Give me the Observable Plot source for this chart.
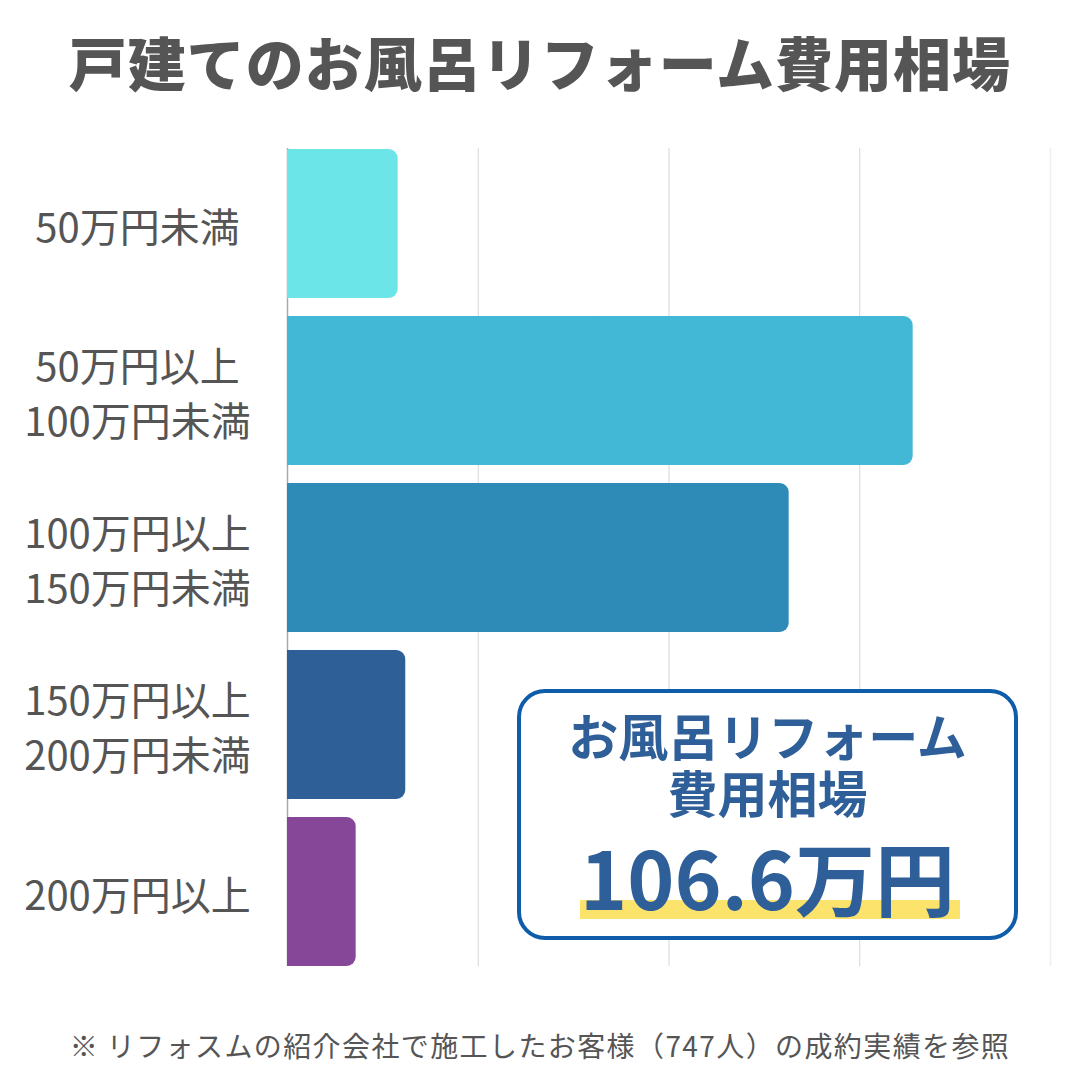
<!DOCTYPE html>
<html>
<head>
<meta charset="utf-8">
<script src="https://cdn.jsdelivr.net/npm/d3@7"></script>
<script src="https://cdn.jsdelivr.net/npm/@observablehq/plot@0.6"></script>
<style>
html, body { margin: 0; padding: 0; background: #fff; }
#wrap { position: relative; width: 1080px; height: 1080px; overflow: hidden; background: #fff;
  font-family: "Noto Sans CJK JP", "Noto Sans", sans-serif; }
#title { position: absolute; left: 0; top: 0; width: 1080px; height: 122px; line-height: 122px;
  text-align: center; font-size: 58px; font-weight: 900; color: #555; letter-spacing: 1px; white-space: nowrap; }
#chart { position: absolute; left: 0; top: 120px; }
#callout { position: absolute; left: 517px; top: 689px; width: 501px; height: 251px; box-sizing: border-box;
  border: 4px solid #0E5CAA; border-radius: 28px; background: #fff; }
#callout .line { position: absolute; left: 0; width: 493px; text-align: center; color: #2F5F98; font-weight: 700; white-space: nowrap; }
#l1 { top: 13px; height: 56px; line-height: 56px; font-size: 50px; }
#l2 { top: 70px; height: 56px; line-height: 56px; font-size: 50px; }
#hl { position: absolute; left: 59px; top: 207px; width: 380px; height: 19px; background: #FCE36B; }
#l3 { top: 137px; height: 90px; line-height: 90px; font-size: 80px; }
#caption { position: absolute; left: 0; top: 1020px; width: 1080px; height: 51px; line-height: 51px;
  text-align: center; font-size: 28px; color: #555; letter-spacing: 1.4px; white-space: nowrap; }
</style>
</head>
<body>
<div id="wrap">
  <div id="title"></div>
  <div id="chart"></div>
  <div id="callout">
    <div id="hl"></div>
    <div class="line" id="l1"></div>
    <div class="line" id="l2"></div>
    <div class="line" id="l3"></div>
  </div>
  <div id="caption"></div>
</div>
<script>
// ---- data ----
const titleText = "戸建てのお風呂リフォーム費用相場";
const categories = [
  "50万円未満",
  "50万円以上\n100万円未満",
  "100万円以上\n150万円未満",
  "150万円以上\n200万円未満",
  "200万円以上"
];
const counts = [58, 328, 263, 62, 36];
const gridTicks = [100, 200, 300];
const xMax = 400;
const calloutLines = ["お風呂リフォーム", "費用相場", "106.6万円"];
const captionText = "※ リフォスムの紹介会社で施工したお客様（747人）の成約実績を参照";

// ---- styles ----
const barColors = ["#6BE5E8", "#42B7D6", "#2E8BB8", "#2E6097", "#874799"];

const data = categories.map((c, i) => ({category: c, count: counts[i]}));

document.getElementById("title").textContent = titleText;
document.getElementById("l1").textContent = calloutLines[0];
document.getElementById("l2").textContent = calloutLines[1];
document.getElementById("l3").textContent = calloutLines[2];
document.getElementById("caption").textContent = captionText;

const chart = Plot.plot({
  width: 1080,
  height: 880,
  marginLeft: 287,
  marginRight: 30,
  marginTop: 28,
  marginBottom: 34,
  style: {fontFamily: "'Noto Sans CJK JP', 'Noto Sans', sans-serif", background: "transparent", overflow: "visible"},
  x: {domain: [0, xMax], axis: null},
  y: {domain: categories, axis: null, paddingInner: 0.108, paddingOuter: 0},
  color: {domain: categories, range: barColors},
  marks: [
    Plot.ruleX(gridTicks, {stroke: "#d6d6d6", strokeWidth: 1}),
    Plot.ruleX([xMax], {stroke: "#eeeeee", strokeWidth: 1.5}),
    Plot.ruleX([0], {stroke: "#aaaaaa", strokeWidth: 1.5}),
    Plot.barX(data, {x: "count", y: "category", fill: "category", rx: 9}),
    Plot.barX(data, {x1: 0, x2: d => d.count / 2, y: "category", fill: "category"}),
    Plot.text(data, {
      y: "category", text: "category", frameAnchor: "left", dx: -150,
      textAnchor: "middle", fontSize: 40, fill: "#555", lineHeight: 1.375
    })
  ]
});
document.getElementById("chart").appendChild(chart);
</script>
</body>
</html>
